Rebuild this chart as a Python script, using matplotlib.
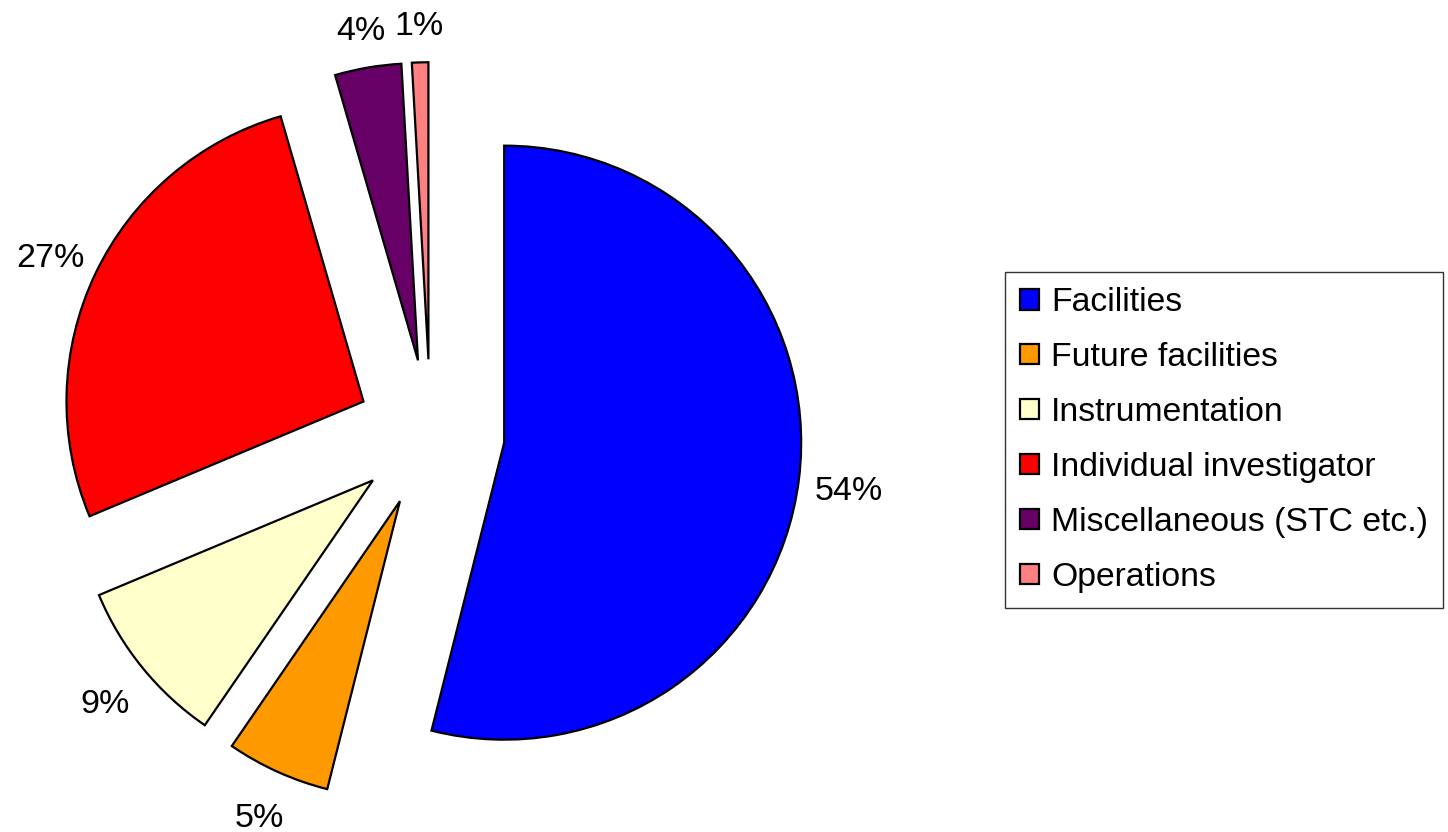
import matplotlib
matplotlib.use("Agg")
import matplotlib.pyplot as plt
import numpy as np

categories = ["Facilities", "Future facilities", "Instrumentation",
              "Individual investigator", "Miscellaneous (STC etc.)", "Operations"]
values = [53.93, 5.64, 9.11, 26.81, 3.61, 0.89]
pct_labels = ["54%", "5%", "9%", "27%", "4%", "1%"]
colors = ["#0000FF", "#FF9900", "#FFFFCC", "#FF0000", "#660066", "#FF8080"]
explode = [0.25] * len(values)

plt.rcParams['font.family'] = ['Liberation Sans', 'DejaVu Sans']

W, H = 1448, 832
fig = plt.figure(figsize=(W / 100, H / 100), dpi=100)
ax_w = 1000
ax = fig.add_axes([0, 0, ax_w / W, 1])

R = 297.0
cx, cy = 430.5, H - 433.5

lab_iter = iter(pct_labels)
wedges, texts, autotexts = ax.pie(
    values, colors=colors, explode=explode, startangle=90, counterclock=False,
    autopct=lambda p: next(lab_iter), pctdistance=1.15, radius=1.0,
    wedgeprops=dict(edgecolor='black', linewidth=1.6),
    textprops=dict(fontsize=24.5, color='black'))

# Place labels just outside each exploded wedge (farther out for side labels)
for w, t, e in zip(wedges, autotexts, explode):
    ang = np.deg2rad((w.theta1 + w.theta2) / 2)
    d = e + 1.14 + 0.03 * abs(np.cos(ang))
    t.set_position((d * np.cos(ang), d * np.sin(ang) - 0.02))

ax.set_aspect('auto')
ax.set_xlim(-cx / R, (ax_w - cx) / R)
ax.set_ylim(-cy / R, (H - cy) / R)
ax.axis('off')

leg = fig.legend(wedges, categories, loc='upper left',
                 bbox_to_anchor=(1005 / W, 1 - 272 / H),
                 fontsize=24.3, frameon=True, fancybox=False, shadow=False,
                 handlelength=0.56, handleheight=0.56, handletextpad=0.36,
                 borderpad=0.45, labelspacing=0.71, borderaxespad=0)
leg.get_frame().set_edgecolor('#333333')
leg.get_frame().set_linewidth(1.0)
leg.get_frame().set_alpha(1)
for h in leg.legend_handles:
    h.set_linewidth(1.6)
    h.set_edgecolor('black')

fig.savefig("out.png", dpi=100)
